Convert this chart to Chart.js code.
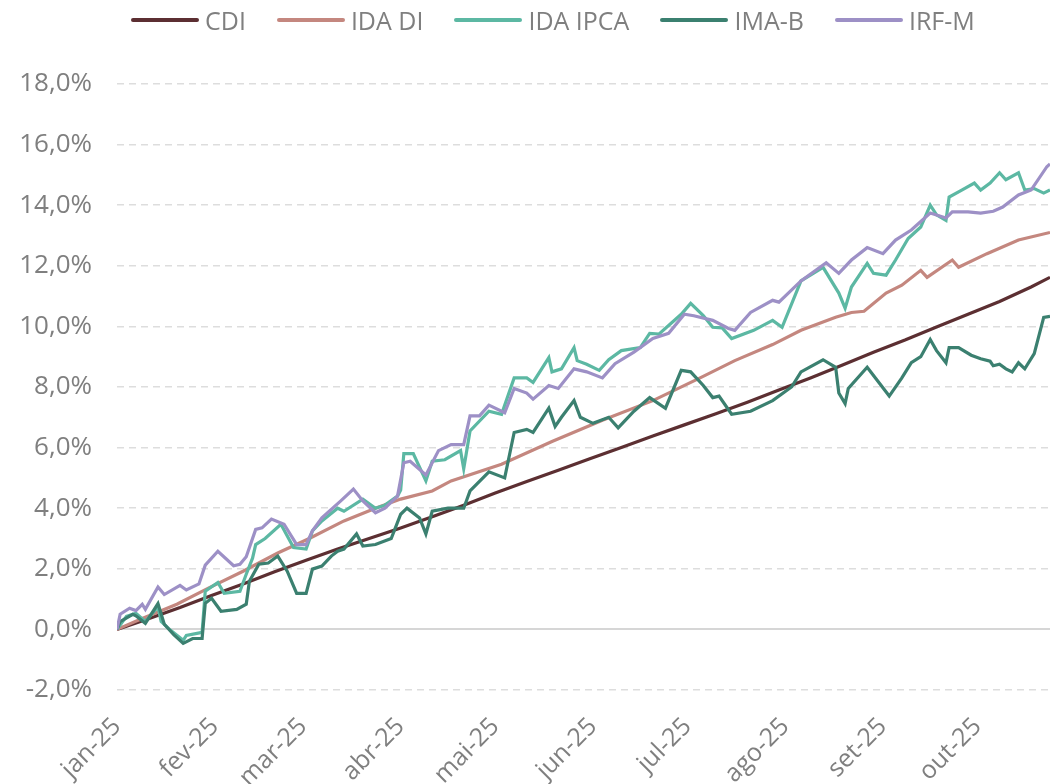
<!DOCTYPE html>
<html><head><meta charset="utf-8">
<script src="https://cdn.jsdelivr.net/npm/chart.js@4.4.1/dist/chart.umd.min.js"></script>
<style>
html,body{margin:0;padding:0;background:#fff;}
#wrap{position:relative;width:1050px;height:784px;overflow:hidden;}
canvas{position:absolute;left:0;top:0;}
#legend{position:absolute;left:131px;top:3px;display:flex;gap:31px;font-family:'Open Sans',sans-serif;font-size:25px;color:#7f7f7f;line-height:34px;white-space:nowrap;}
.item{display:flex;align-items:center;}
.swatch{width:68px;height:4px;margin-right:6px;border-radius:2px;}
</style></head><body>
<div id="wrap"><canvas id="c" width="1050" height="784"></canvas><div id="legend"></div></div>
<script>
const seriesNames = ['CDI', 'IDA DI', 'IDA IPCA', 'IMA-B', 'IRF-M'];
const seriesColors = ['#5c2f32', '#c4877f', '#5cb8a3', '#3b8070', '#9d90c6'];

// x = days since 1 Jan 2025
const monthTickDays = [0, 31, 59, 90, 120, 151, 181, 212, 243, 273];
const monthLabels = ['jan-25', 'fev-25', 'mar-25', 'abr-25', 'mai-25', 'jun-25', 'jul-25', 'ago-25', 'set-25', 'out-25'];

const cdiDays = [0,10,20,30,40,50,60,70,80,90,100,110,120,130,140,150,160,170,180,190,200,210,220,230,240,250,260,270,280,290,296];
const cdiValues = [0,0.35,0.72,1.12,1.5,1.9,2.28,2.65,3.0,3.35,3.72,4.1,4.5,4.88,5.25,5.63,6.0,6.38,6.75,7.12,7.5,7.9,8.3,8.72,9.15,9.55,9.98,10.4,10.82,11.3,11.62];

const idaDiDays = [0,8,19,29,40,51,61,72,82,90,100,106,122,138,154,170,185,196,208,217,228,233,237,244,249,255,257,265,267,276,286,296];
const idaDiValues = [0,0.36,0.83,1.36,1.92,2.52,3.0,3.58,4.0,4.3,4.57,4.9,5.45,6.2,6.9,7.55,8.3,8.87,9.4,9.87,10.3,10.46,10.5,11.1,11.36,11.85,11.62,12.19,11.95,12.4,12.85,13.1];

const idaIpcaDays = [0,3,6,9,13,14,17,21,22,27,28,32,34,39,41,43,44,47,52,56,60,62,65,70,72,78,82,85,89,90,91,94,98,100,104,109,110,112,118,122,126,130,132,137,138,141,145,146,149,153,156,160,166,169,172,179,182,186,189,192,195,202,208,211,217,224,229,231,233,238,240,244,247,251,255,258,260,263,264,268,272,274,277,280,282,286,288,291,294,296];
const idaIpcaValues = [0,0.43,0.53,0.26,0.75,0.26,-0.03,-0.36,-0.2,-0.1,1.26,1.55,1.19,1.26,1.82,2.35,2.8,3.0,3.47,2.7,2.65,3.25,3.58,4.0,3.9,4.3,4.0,4.1,4.4,4.6,5.8,5.8,4.9,5.55,5.6,5.9,5.3,6.55,7.2,7.1,8.3,8.3,8.15,8.97,8.5,8.6,9.3,8.87,8.75,8.55,8.9,9.2,9.3,9.77,9.75,10.4,10.76,10.36,9.97,9.95,9.6,9.87,10.2,9.97,11.5,11.95,11.1,10.6,11.3,12.08,11.75,11.69,12.19,12.9,13.28,14.0,13.68,13.5,14.27,14.5,14.73,14.5,14.73,15.07,14.84,15.07,14.5,14.55,14.4,14.5];

const imaBDays = [0,1,5,6,9,13,15,18,21,24,27,28,30,33,38,41,42,45,48,51,54,57,60,62,65,68,70,72,76,78,82,87,90,92,96,98,100,105,110,112,118,123,126,130,132,137,139,141,145,147,151,156,159,164,169,174,179,182,186,189,191,195,201,208,214,217,224,228,229,231,232,238,245,249,252,255,258,260,263,264,267,271,274,277,278,280,282,284,286,288,291,294,296];
const imaBValues = [0,0.26,0.5,0.45,0.2,0.85,0.17,-0.17,-0.46,-0.3,-0.3,0.86,1.03,0.6,0.66,0.83,1.59,2.15,2.19,2.42,1.92,1.19,1.19,1.99,2.09,2.42,2.58,2.65,3.15,2.75,2.8,3.0,3.8,4.0,3.68,3.15,3.9,4.0,4.0,4.57,5.2,5.0,6.5,6.6,6.5,7.3,6.7,7.0,7.55,7.0,6.8,7.0,6.65,7.2,7.65,7.3,8.55,8.5,8.05,7.65,7.7,7.1,7.2,7.55,8.0,8.5,8.9,8.65,7.8,7.45,7.95,8.65,7.7,8.3,8.8,9.0,9.57,9.2,8.8,9.3,9.3,9.05,8.93,8.85,8.7,8.75,8.6,8.5,8.8,8.6,9.1,10.3,10.33];

const irfmDays = [0,1,4,6,8,9,13,15,20,22,26,28,32,37,39,41,44,46,49,53,57,60,62,65,71,75,78,82,85,89,91,93,98,102,106,110,112,115,118,123,126,130,132,137,140,145,149,154,158,164,170,175,180,183,189,194,196,201,208,210,217,225,229,233,238,243,247,252,258,263,265,270,274,278,281,286,290,295,296];
const irfmValues = [0,0.5,0.7,0.62,0.83,0.66,1.4,1.15,1.45,1.3,1.5,2.12,2.58,2.1,2.15,2.4,3.3,3.35,3.64,3.47,2.8,2.8,3.25,3.68,4.24,4.63,4.24,3.85,4.0,4.4,5.5,5.55,5.1,5.9,6.1,6.1,7.05,7.05,7.4,7.15,7.95,7.8,7.6,8.05,7.95,8.6,8.5,8.3,8.77,9.15,9.6,9.77,10.4,10.35,10.2,9.93,9.87,10.46,10.86,10.8,11.5,12.1,11.75,12.19,12.6,12.4,12.85,13.18,13.74,13.58,13.78,13.78,13.74,13.8,13.94,14.34,14.5,15.27,15.36];

const yMin = -2, yMax = 18, yStep = 2;

function toPoints(days, values) {
  return days.map((d, i) => ({x: d, y: values[i]}));
}
const seriesData = [
  toPoints(cdiDays, cdiValues),
  toPoints(idaDiDays, idaDiValues),
  toPoints(idaIpcaDays, idaIpcaValues),
  toPoints(imaBDays, imaBValues),
  toPoints(irfmDays, irfmValues)
];

// HTML legend
const legendEl = document.getElementById('legend');
seriesNames.forEach((name, i) => {
  const it = document.createElement('div'); it.className = 'item';
  const sw = document.createElement('span'); sw.className = 'swatch'; sw.style.background = seriesColors[i];
  const tx = document.createElement('span'); tx.textContent = name;
  it.appendChild(sw); it.appendChild(tx); legendEl.appendChild(it);
});

Chart.defaults.font.family = "'Open Sans', sans-serif";
Chart.defaults.color = '#7f7f7f';

new Chart(document.getElementById('c'), {
  type: 'line',
  data: {
    datasets: seriesNames.map((name, i) => ({
      label: name,
      data: seriesData[i],
      borderColor: seriesColors[i],
      backgroundColor: seriesColors[i],
      borderWidth: 3.2,
      pointRadius: 0,
      tension: 0,
      fill: false,
      order: seriesNames.length - i
    }))
  },
  options: {
    responsive: false,
    animation: false,
    events: [],
    layout: {padding: {top: 84, left: 0, right: 0, bottom: 0}},
    plugins: {legend: {display: false}, tooltip: {enabled: false}},
    scales: {
      x: {
        type: 'linear',
        min: 0,
        max: 296,
        afterBuildTicks: (scale) => { scale.ticks = monthTickDays.map(v => ({value: v})); },
        afterFit: (scale) => { scale.height = 94; },
        grid: {display: false, drawTicks: false},
        border: {display: false},
        ticks: {
          autoSkip: false,
          minRotation: 45,
          maxRotation: 45,
          padding: 22,
          font: {size: 25},
          color: '#7f7f7f',
          callback: (v, idx) => monthLabels[idx]
        }
      },
      y: {
        min: yMin,
        max: yMax,
        afterFit: (scale) => { scale.width = 117; },
        grid: {
          drawTicks: false,
          color: (ctx) => (ctx.tick && ctx.tick.value === 0) ? '#d6d6d6' : '#dddddd',
          lineWidth: (ctx) => (ctx.tick && ctx.tick.value === 0) ? 2 : 1.5
        },
        border: {
          display: false,
          dash: (ctx) => (ctx.tick && ctx.tick.value === 0) ? [] : [7, 5]
        },
        ticks: {
          stepSize: yStep,
          padding: 25,
          font: {size: 26},
          color: '#7f7f7f',
          callback: (v) => v.toFixed(1).replace('.', ',') + '%'
        }
      }
    }
  }
});
</script>
</body></html>
